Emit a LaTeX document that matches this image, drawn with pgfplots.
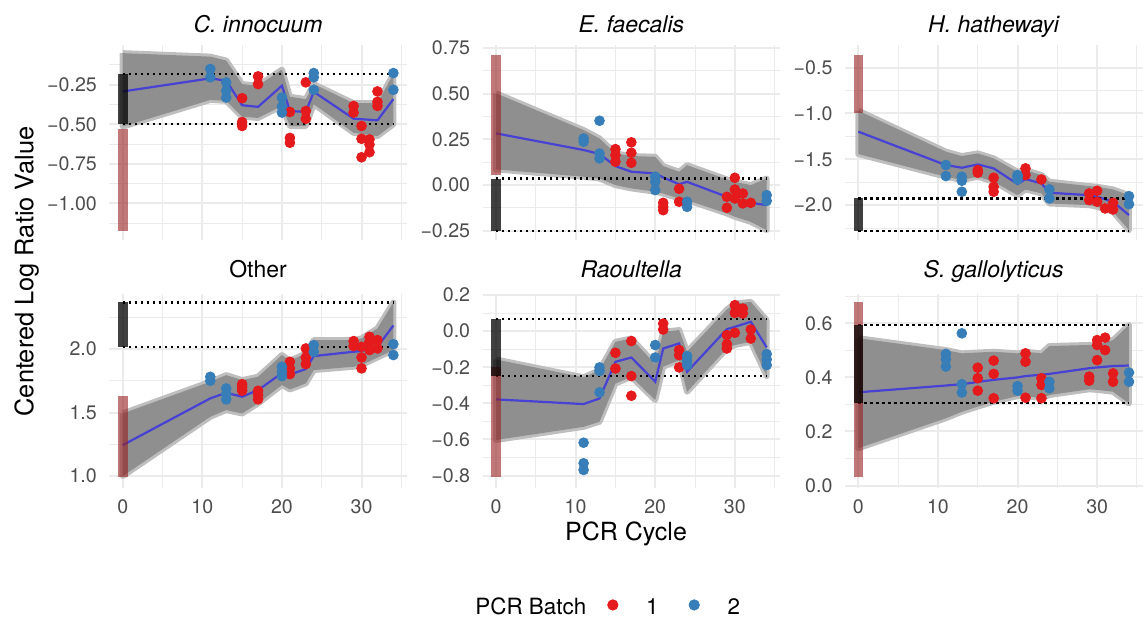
\documentclass[border=0pt]{standalone}
\usepackage{fontspec}
\setmainfont{TeX Gyre Heros}
\usepackage{pgfplots}
\usepackage{pgfplotstable}
\pgfplotsset{compat=1.18}

\definecolor{gridc}{RGB}{235,235,235}
\definecolor{tickc}{RGB}{77,77,77}
\definecolor{bandfill}{RGB}{143,143,143}
\definecolor{bandedge}{RGB}{190,190,190}
\definecolor{meanc}{RGB}{72,66,212}
\definecolor{ptred}{RGB}{228,26,28}
\definecolor{ptblue}{RGB}{55,126,184}
\definecolor{barred}{RGB}{150,30,30}

\pgfplotsset{
  every axis title shift=0pt,
  panel/.style={
    scale only axis, width=148.85pt, height=97.2pt, anchor=south west,
    xmin=-1.7, xmax=35.7,
    xtick={0,10,20,30}, minor xtick={5,15,25,35},
    grid=both,
    major grid style={draw=gridc, line width=1pt},
    minor grid style={draw=gridc, line width=0.5pt},
    axis line style={draw=none},
    major tick length=0pt, minor tick length=0pt,
    tick label style={font=\fontsize{9.8}{11}\selectfont, text=tickc, inner sep=0pt},
    yticklabel style={xshift=-6pt},
    xticklabel style={yshift=-5.6pt},
    title style={font=\fontsize{11.5}{13}\selectfont, at={(0.5,1)}, anchor=base, inner sep=0pt},
    clip=false,
  },
  toprow/.style={xticklabels={,,,}, title style={yshift=6.2pt}},
  botrow/.style={xticklabels={0,10,20,30}, title style={yshift=8.1pt}},
  bandout/.style={draw=bandedge, line width=3pt, line join=round, forget plot},
  bandin/.style={fill=bandfill, draw=none, forget plot},
  mean/.style={draw=meanc, line width=1.1pt, forget plot},
  dotl/.style={draw=black, line width=1.1pt, dash pattern=on 1.1pt off 1.9pt, forget plot},
  rbar/.style={draw=barred, line width=4.8pt, opacity=0.6, forget plot},
  kbar/.style={draw=black, line width=4.8pt, opacity=0.75, forget plot},
  pr/.style={only marks, mark=*, color=ptred, mark size=2.45pt, forget plot},
  pb/.style={only marks, mark=*, color=ptblue, mark size=2.45pt, forget plot},
}

% ---------- C. innocuum ----------
\pgfplotstableread{
x y
0 -0.050
11 -0.072
13 -0.097
15 -0.246
17 -0.256
20 -0.154
21 -0.326
23 -0.341
24 -0.246
29 -0.367
32 -0.367
34 -0.182
34 -0.500
32 -0.575
29 -0.554
24 -0.373
23 -0.511
21 -0.511
20 -0.384
17 -0.460
15 -0.452
13 -0.352
11 -0.346
0 -0.515
0 -0.050
}\polyA
\pgfplotstableread{
x y
0 -0.2925
11 -0.2096
13 -0.2245
15 -0.3796
17 -0.390
20 -0.256
21 -0.416
23 -0.422
24 -0.2946
29 -0.4645
32 -0.475
34 -0.341
}\midA
\pgfplotstableread{
x y
15 -0.335
15 -0.486
15 -0.511
17 -0.197
17 -0.246
21 -0.422
21 -0.586
21 -0.617
23 -0.235
23 -0.416
23 -0.465
29 -0.384
29 -0.426
30 -0.511
30 -0.592
30 -0.709
31 -0.596
31 -0.628
31 -0.677
32 -0.292
32 -0.358
32 -0.384
}\redA
\pgfplotstableread{
x y
11 -0.150
11 -0.203
13 -0.235
13 -0.288
13 -0.331
20 -0.331
20 -0.388
20 -0.426
24 -0.176
24 -0.203
24 -0.282
34 -0.176
34 -0.282
}\blueA

% ---------- E. faecalis ----------
\pgfplotstableread{
x y
0 0.502
11 0.301
13 0.255
15 0.173
17 0.159
20 0.155
21 0.104
23 0.073
24 0.109
29 0.031
30 0.018
32 0.000
34 0.036
34 -0.246
32 -0.201
30 -0.173
29 -0.155
24 -0.082
23 -0.073
21 -0.046
20 -0.036
17 -0.018
15 0.000
13 0.036
11 0.046
0 0.086
0 0.502
}\polyB
\pgfplotstableread{
x y
0 0.283
11 0.192
13 0.170
15 0.104
17 0.073
20 0.064
21 0.042
23 0.005
24 0.018
29 -0.064
30 -0.078
32 -0.097
34 -0.109
}\midB
\pgfplotstableread{
x y
15 0.197
15 0.164
15 0.128
17 0.234
17 0.177
17 0.122
21 -0.097
21 -0.119
21 -0.137
23 -0.020
23 -0.091
29 -0.064
29 -0.124
30 0.040
30 -0.024
30 -0.073
31 -0.046
31 -0.100
32 -0.097
}\redB
\pgfplotstableread{
x y
11 0.255
11 0.237
13 0.352
13 0.173
13 0.146
20 0.046
20 0.018
20 -0.027
24 -0.091
24 -0.119
34 -0.055
34 -0.086
}\blueB

% ---------- H. hathewayi ----------
\pgfplotstableread{
x y
0 -0.970
11 -1.417
13 -1.465
15 -1.436
17 -1.490
20 -1.636
21 -1.618
23 -1.672
24 -1.745
29 -1.792
30 -1.800
32 -1.829
34 -1.891
34 -2.273
32 -2.073
30 -2.018
29 -2.000
24 -1.982
23 -1.872
21 -1.829
20 -1.891
17 -1.745
15 -1.690
13 -1.727
11 -1.690
0 -1.443
0 -0.970
}\polyC
\pgfplotstableread{
x y
0 -1.199
11 -1.563
13 -1.592
15 -1.556
17 -1.599
20 -1.770
21 -1.716
23 -1.763
24 -1.865
29 -1.891
30 -1.909
32 -1.963
34 -2.109
}\midC
\pgfplotstableread{
x y
15 -1.618
15 -1.647
17 -1.701
17 -1.800
17 -1.854
21 -1.599
21 -1.672
23 -1.720
29 -1.872
29 -1.945
30 -1.843
30 -1.963
31 -2.036
32 -1.974
32 -2.047
}\redC
\pgfplotstableread{
x y
11 -1.563
11 -1.683
13 -1.690
13 -1.734
13 -1.854
20 -1.672
20 -1.690
20 -1.720
24 -1.829
24 -1.927
34 -1.902
34 -1.989
}\blueC

% ---------- Other ----------
\pgfplotstableread{
x y
0 1.493
11 1.743
13 1.795
15 1.756
17 1.782
20 1.953
21 1.908
23 1.966
24 2.071
29 2.071
30 2.084
32 2.163
34 2.367
34 1.992
32 1.934
30 1.874
29 1.861
24 1.835
23 1.730
21 1.682
20 1.717
17 1.572
15 1.493
13 1.520
11 1.467
0 1.000
0 1.493
}\polyD
\pgfplotstableread{
x y
0 1.244
11 1.612
13 1.656
15 1.625
17 1.677
20 1.811
21 1.800
23 1.843
24 1.945
29 1.979
30 1.985
32 2.018
34 2.186
}\midD
\pgfplotstableread{
x y
15 1.724
15 1.698
15 1.672
17 1.672
17 1.638
17 1.604
21 1.900
21 1.848
21 1.803
23 2.005
23 1.934
23 1.882
29 2.063
29 2.024
30 2.018
30 1.934
30 1.848
31 2.097
31 2.058
31 1.992
32 2.071
32 2.005
}\redD
\pgfplotstableread{
x y
11 1.782
11 1.751
13 1.690
13 1.646
13 1.604
20 1.861
20 1.822
20 1.787
24 2.031
24 1.979
34 2.039
34 1.953
}\blueD

% ---------- Raoultella ----------
\pgfplotstableread{
x y
0 -0.157
11 -0.256
13 -0.216
15 -0.059
17 -0.041
20 -0.183
21 -0.004
23 0.006
24 -0.114
29 0.120
30 0.153
32 0.162
34 0.061
34 -0.249
32 -0.059
30 -0.077
29 -0.096
24 -0.336
23 -0.161
21 -0.197
20 -0.382
17 -0.253
15 -0.290
13 -0.502
11 -0.530
0 -0.603
0 -0.157
}\polyE
\pgfplotstableread{
x y
0 -0.378
11 -0.404
13 -0.373
15 -0.170
17 -0.146
20 -0.280
21 -0.096
23 -0.068
24 -0.225
29 0.011
30 0.024
32 0.052
34 -0.090
}\midE
\pgfplotstableread{
x y
15 -0.120
15 -0.207
17 -0.055
17 -0.249
17 -0.358
21 0.042
21 0.009
23 -0.105
23 -0.133
23 -0.201
29 -0.022
29 -0.072
29 -0.096
30 0.144
30 0.101
30 -0.009
31 0.125
31 0.098
32 0.009
32 -0.041
}\redE
\pgfplotstableread{
x y
11 -0.618
11 -0.732
11 -0.769
13 -0.201
13 -0.220
13 -0.339
20 -0.077
20 -0.146
24 -0.138
24 -0.164
24 -0.188
34 -0.127
34 -0.157
34 -0.188
}\blueE

% ---------- S. gallolyticus ----------
\pgfplotstableread{
x y
0 0.545
11 0.501
13 0.489
15 0.492
17 0.495
20 0.489
21 0.495
23 0.489
24 0.516
29 0.520
30 0.522
32 0.538
34 0.594
34 0.304
32 0.347
30 0.354
29 0.356
24 0.335
23 0.323
21 0.331
20 0.331
17 0.310
15 0.292
13 0.273
11 0.249
0 0.138
0 0.545
}\polyF
\pgfplotstableread{
x y
0 0.345
11 0.370
13 0.375
15 0.383
17 0.391
20 0.400
21 0.405
23 0.410
24 0.413
29 0.434
30 0.437
32 0.442
34 0.444
}\midF
\pgfplotstableread{
x y
15 0.436
15 0.397
15 0.351
17 0.462
17 0.413
17 0.323
21 0.489
21 0.458
21 0.325
23 0.397
23 0.372
23 0.323
29 0.403
29 0.388
30 0.538
30 0.520
30 0.464
31 0.547
31 0.501
32 0.415
32 0.384
}\redF
\pgfplotstableread{
x y
11 0.487
11 0.467
11 0.440
13 0.563
13 0.375
13 0.344
20 0.368
20 0.351
24 0.384
24 0.360
34 0.418
34 0.384
}\blueF

\begin{document}
\begin{tikzpicture}
\path[use as bounding box] (0,0) rectangle (571.5pt,311pt);

% C. innocuum
\begin{axis}[panel, toprow, at={(54.6pt,191.1pt)},
  ymin=-1.231, ymax=-0.001,
  ytick={-1,-0.75,-0.5,-0.25}, yticklabels={−1.00,−0.75,−0.50,−0.25},
  minor ytick={-1.125,-0.875,-0.625,-0.375,-0.125},
  title={\itshape C. innocuum}]
\addplot[bandout] table {\polyA};
\addplot[bandin] table {\polyA};
\addplot[mean] table {\midA};
\addplot[dotl] coordinates {(0,-0.184)(34,-0.184)};
\addplot[dotl] coordinates {(0,-0.499)(34,-0.499)};
\addplot[rbar] coordinates {(0,-1.176)(0,-0.528)};
\addplot[kbar] coordinates {(0,-0.499)(0,-0.184)};
\addplot[pr] table {\redA};
\addplot[pb] table {\blueA};
\end{axis}

% E. faecalis
\begin{axis}[panel, toprow, at={(241.25pt,191.1pt)},
  ymin=-0.299, ymax=0.764,
  ytick={-0.25,0,0.25,0.5,0.75}, yticklabels={−0.25,0.00,0.25,0.50,0.75},
  minor ytick={-0.125,0.125,0.375,0.625},
  title={\itshape E. faecalis}]
\addplot[bandout] table {\polyB};
\addplot[bandin] table {\polyB};
\addplot[mean] table {\midB};
\addplot[dotl] coordinates {(0,0.036)(34,0.036)};
\addplot[dotl] coordinates {(0,-0.252)(34,-0.252)};
\addplot[rbar] coordinates {(0,0.055)(0,0.712)};
\addplot[kbar] coordinates {(0,-0.252)(0,0.036)};
\addplot[pr] table {\redB};
\addplot[pb] table {\blueB};
\end{axis}

% H. hathewayi
\begin{axis}[panel, toprow, at={(422.4pt,191.1pt)},
  ymin=-2.378, ymax=-0.258,
  ytick={-2,-1.5,-1,-0.5}, yticklabels={−2.0,−1.5,−1.0,−0.5},
  minor ytick={-2.25,-1.75,-1.25,-0.75},
  title={\itshape H. hathewayi}]
\addplot[bandout] table {\polyC};
\addplot[bandin] table {\polyC};
\addplot[mean] table {\midC};
\addplot[dotl] coordinates {(0,-1.927)(34,-1.927)};
\addplot[dotl] coordinates {(0,-2.284)(34,-2.284)};
\addplot[rbar] coordinates {(0,-0.999)(0,-0.362)};
\addplot[kbar] coordinates {(0,-2.284)(0,-1.927)};
\addplot[pr] table {\redC};
\addplot[pb] table {\blueC};
\end{axis}

% Other
\begin{axis}[panel, botrow, at={(54.6pt,67pt)},
  ymin=0.906, ymax=2.437,
  ytick={1,1.5,2}, yticklabels={1.0,1.5,2.0},
  minor ytick={1.25,1.75,2.25},
  title={Other}]
\addplot[bandout] table {\polyD};
\addplot[bandin] table {\polyD};
\addplot[mean] table {\midD};
\addplot[dotl] coordinates {(0,2.018)(34,2.018)};
\addplot[dotl] coordinates {(0,2.367)(34,2.367)};
\addplot[rbar] coordinates {(0,0.995)(0,1.630)};
\addplot[kbar] coordinates {(0,2.018)(0,2.367)};
\addplot[pr] table {\redD};
\addplot[pb] table {\blueD};
\end{axis}

% Raoultella (carries the legend)
\begin{axis}[panel, botrow, at={(241.25pt,67pt)},
  ymin=-0.869, ymax=0.208,
  ytick={-0.8,-0.6,-0.4,-0.2,0,0.2}, yticklabels={−0.8,−0.6,−0.4,−0.2,0.0,0.2},
  minor ytick={-0.7,-0.5,-0.3,-0.1,0.1},
  title={\itshape Raoultella},
  legend columns=-1,
  legend style={at={(-0.025,-0.617)}, anchor=west, draw=none, fill=none,
    inner sep=0pt, font=\fontsize{11.2}{13}\selectfont, nodes={inner sep=0pt},
    /tikz/column 2/.style={column sep=10.5pt},
    /tikz/column 3/.style={column sep=13.85pt},
    /tikz/column 4/.style={column sep=15pt},
    /tikz/column 5/.style={column sep=13.85pt}}]
\addplot[bandout] table {\polyE};
\addplot[bandin] table {\polyE};
\addplot[mean] table {\midE};
\addplot[dotl] coordinates {(0,0.066)(34,0.066)};
\addplot[dotl] coordinates {(0,-0.249)(34,-0.249)};
\addplot[rbar] coordinates {(0,-0.810)(0,-0.197)};
\addplot[kbar] coordinates {(0,-0.249)(0,0.066)};
\addplot[pr] table {\redE};
\addplot[pb] table {\blueE};
\addlegendimage{empty legend}
\addlegendentry{PCR Batch}
\addlegendimage{legend image code/.code={\fill[ptred] (0pt,1.5pt) circle (2.6pt);}}
\addlegendentry{1}
\addlegendimage{legend image code/.code={\fill[ptblue] (0pt,1.5pt) circle (2.6pt);}}
\addlegendentry{2}
\end{axis}

% S. gallolyticus
\begin{axis}[panel, botrow, at={(422.4pt,67pt)},
  ymin=-0.009, ymax=0.71,
  ytick={0,0.2,0.4,0.6}, yticklabels={0.0,0.2,0.4,0.6},
  minor ytick={0.1,0.3,0.5,0.7},
  title={\itshape S. gallolyticus}]
\addplot[bandout] table {\polyF};
\addplot[bandin] table {\polyF};
\addplot[mean] table {\midF};
\addplot[dotl] coordinates {(0,0.304)(34,0.304)};
\addplot[dotl] coordinates {(0,0.594)(34,0.594)};
\addplot[rbar] coordinates {(0,0.031)(0,0.678)};
\addplot[kbar] coordinates {(0,0.304)(0,0.594)};
\addplot[pr] table {\redF};
\addplot[pb] table {\blueF};
\end{axis}

\node[rotate=90, anchor=base, font=\fontsize{12.7}{15}\selectfont] at (16.65pt,175.25pt) {Centered Log Ratio Value};
\node[anchor=base, font=\fontsize{12.5}{15}\selectfont] at (313pt,40.65pt) {PCR Cycle};
\end{tikzpicture}
\end{document}
